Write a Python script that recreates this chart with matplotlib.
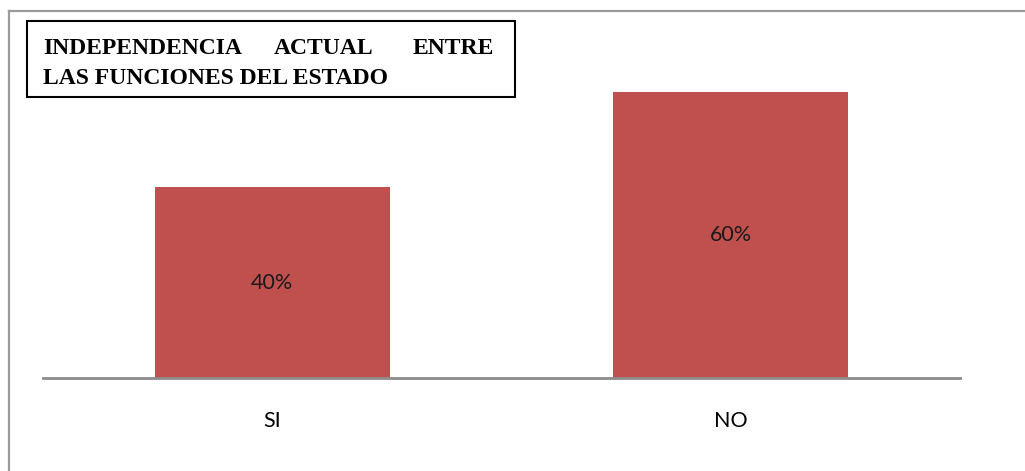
import matplotlib.pyplot as plt
from matplotlib.patches import Rectangle
from matplotlib.lines import Line2D

categories = ["SI", "NO"]
shares = [0.40, 0.60]
bar_labels = ["40%", "60%"]
title_line1 = ["INDEPENDENCIA", "ACTUAL", "ENTRE"]
title_line2 = "LAS FUNCIONES DEL ESTADO"

W, H = 1025, 471
fig = plt.figure(figsize=(W / 100, H / 100), dpi=100)

ax = fig.add_axes([43 / W, 1 - 378 / H, 917 / W, (378 - 44) / H])
x = range(len(categories))
bars = ax.bar(x, shares, width=0.513, color="#C0504D", zorder=2)
ax.set_xlim(-0.5, 1.5)
ax.set_ylim(0, 0.7)

for b, lab in zip(bars, bar_labels):
    ax.text(b.get_x() + b.get_width() / 2, b.get_height() / 2, lab,
            ha="center", va="center", fontsize=15.5, family="Lato", color="#1a1a1a")

ax.set_xticks(list(x))
ax.set_xticklabels(categories, fontsize=15.5, family="Lato")
ax.tick_params(axis="x", length=0, pad=24)
ax.set_yticks([])
for s in ["top", "right", "left"]:
    ax.spines[s].set_visible(False)
ax.spines["bottom"].set_color("#8c8c8c")
ax.spines["bottom"].set_linewidth(2)

# outer frame (only top and left edges fall inside the image)
fig.add_artist(Line2D([9 / W, 9 / W], [0, 1 - 11 / H], transform=fig.transFigure,
                      color="#9a9a9a", lw=1.6))
fig.add_artist(Line2D([9 / W, 1], [1 - 11 / H, 1 - 11 / H], transform=fig.transFigure,
                      color="#9a9a9a", lw=1.6))

# title box
fig.add_artist(Rectangle((27 / W, 1 - 97 / H), (515 - 27) / W, (97 - 21) / H,
                         transform=fig.transFigure, facecolor="white",
                         edgecolor="black", lw=1.5, zorder=5))
tkw = dict(fontsize=17, fontweight="bold", family="Liberation Serif",
           va="baseline", zorder=6, transform=fig.transFigure)
y1 = 1 - 54 / H
fig.text(43 / W, y1, title_line1[0], ha="left", **tkw)
fig.text(324 / W, y1, title_line1[1], ha="center", **tkw)
fig.text(494 / W, y1, title_line1[2], ha="right", **tkw)
fig.text(43 / W, 1 - 84 / H, title_line2, ha="left", **tkw)

fig.savefig("out.png", dpi=100)
